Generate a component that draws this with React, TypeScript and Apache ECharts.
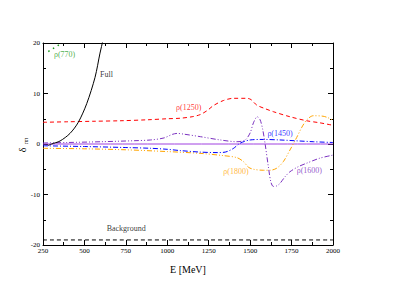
import React, { useEffect, useRef } from "react";
import * as echarts from "echarts";

const xTicks = [250, 500, 750, 1000, 1250, 1500, 1750, 2000];
const yTicks = [-20, -10, 0, 10, 20];

const rho770: number[][] = [[282, 18.3], [300, 18.7], [320, 19.1], [340, 19.5], [358, 19.9]];
const full: number[][] = [[280, -0.3], [302, 0], [353, 0.6], [413, 2.1], [463, 4.3], [514, 8.0], [564, 13.2], [594, 18.0], [612, 20.6], [625, 23]];
const rho1250: number[][] = [[250, 4.3], [400, 4.4], [550, 4.5], [715, 4.6], [884, 4.8], [1000, 5.0], [1077, 5.1], [1150, 5.4], [1197, 5.8], [1240, 6.6], [1278, 7.6], [1338, 8.6], [1398, 9.05], [1479, 9.05], [1505, 8.8], [1540, 7.7], [1590, 7.0], [1640, 6.4], [1740, 5.4], [1841, 4.6], [1920, 4.2], [2000, 3.7]];
const rho1450: number[][] = [[250, -0.35], [500, -0.5], [750, -0.7], [900, -0.85], [1000, -1.05], [1077, -1.3], [1197, -1.6], [1300, -1.7], [1350, -1.6], [1398, -0.9], [1439, 0.15], [1500, 0.8], [1580, 0.9], [1680, 0.8], [1881, 0.45], [2000, 0.3]];
const rho1600: number[][] = [[250, 0.2], [400, 0.3], [600, 0.45], [800, 0.65], [900, 0.8], [980, 1.2], [1030, 1.9], [1060, 2.1], [1100, 1.95], [1200, 1.45], [1320, 0.8], [1420, 0.45], [1470, 0.8], [1500, 2.2], [1520, 4.2], [1543, 5.4], [1560, 4.8], [1575, 3.0], [1590, 0.1], [1610, -4.5], [1625, -7.5], [1640, -8.4], [1660, -8.3], [1680, -7.8], [1710, -6.5], [1740, -5.5], [1790, -4.5], [1841, -3.8], [1921, -2.8], [2000, -2.2]];
const rho1800: number[][] = [[250, -0.85], [500, -0.95], [750, -1.15], [1000, -1.5], [1197, -1.85], [1338, -2.3], [1420, -2.7], [1460, -3.5], [1490, -4.6], [1520, -5.0], [1580, -5.2], [1620, -5.2], [1660, -4.8], [1700, -3.5], [1740, -1.2], [1781, 1.3], [1810, 3.2], [1841, 4.75], [1881, 5.6], [1940, 5.5], [1970, 5.2], [2000, 4.7]];
const zeroLine: number[][] = [[250, 0], [2000, 0]];
const background: number[][] = [[250, -19], [2000, -19]];

const labelNames = ["ρ(770)", "Full", "ρ(1250)", "ρ(1450)", "ρ(1800)", "ρ(1600)", "Background"];
const labelE = [316, 594, 1053, 1604, 1338, 1781, 634];
const labelD = [17.8, 13.7, 7.3, 2.0, -5.35, -5.15, -16.8];
const labelColors = ["#1a9a1a", "#000000", "#ff0000", "#0000ff", "#ffa500", "#7a30c0", "#000000"];

const FONT = "Liberation Serif";

export default function App() {
  const ref = useRef<HTMLDivElement>(null);
  useEffect(() => {
    if (!ref.current) return;
    const chart = echarts.init(ref.current, undefined, { renderer: "svg" });
    const axisCommon = {
      type: "value" as const,
      axisLine: { show: true, onZero: false, lineStyle: { color: "#000", width: 1 } },
      axisTick: { show: true, inside: true, length: 5, lineStyle: { color: "#000" } },
      minorTick: { show: true, splitNumber: 2, length: 3, lineStyle: { color: "#000" } },
      splitLine: { show: false },
      minorSplitLine: { show: false },
    };
    const xCommon = { ...axisCommon, min: xTicks[0], max: xTicks[xTicks.length - 1], interval: 250 };
    const yCommon = { ...axisCommon, min: yTicks[0], max: yTicks[yTicks.length - 1], interval: 10 };
    const line = (data: number[][], color: string, type: any, width = 1) => ({
      type: "line",
      data,
      showSymbol: false,
      symbol: "none",
      smooth: 0.3,
      clip: true,
      lineStyle: { color, type, width },
      silent: true,
    });
    chart.setOption({
      animation: false,
      backgroundColor: "#fff",
      grid: { left: 43, right: 65, top: 43, bottom: 36, containLabel: false },
      xAxis: [
        {
          ...xCommon,
          position: "bottom",
          axisLabel: { fontFamily: FONT, fontSize: 7, color: "#000", margin: 2, formatter: (v: number) => String(v) },
          name: "E [MeV]",
          nameLocation: "middle",
          nameGap: 19,
          nameTextStyle: { fontFamily: FONT, fontSize: 10, color: "#000" },
        },
        { ...xCommon, position: "top", axisLabel: { show: false } },
      ],
      yAxis: [
        { ...yCommon, position: "left", axisLabel: { fontFamily: FONT, fontSize: 7, color: "#000", margin: 3, formatter: (v: number) => String(v) } },
        { ...yCommon, position: "right", axisLabel: { show: false } },
      ],
      graphic: [
        { type: "text", x: 22, y: 150, rotation: Math.PI / 2, style: { text: "δ", font: `10px ${FONT}`, fill: "#000", align: "center", verticalAlign: "middle" } },
        { type: "text", x: 26, y: 141, rotation: Math.PI / 2, style: { text: "ππ", font: `6px ${FONT}`, fill: "#000", align: "center", verticalAlign: "middle" } },
      ],
      series: [
        line(background, "#000", [4, 3]),
        line(zeroLine, "#a040e0", "solid"),
        line(rho1800, "#ffa500", [5, 2, 1, 2, 1, 2]),
        line(rho1450, "#0000ff", [5, 2, 1, 2]),
        line(rho1600, "#7a30c0", [5, 2, 1, 2, 1, 2]),
        line(rho1250, "#ff0000", [4, 3]),
        line(full, "#000", "solid"),
        { ...line(rho770, "#1a9a1a", [1.5, 4], 1.5), smooth: false },
        {
          type: "scatter",
          symbolSize: 0,
          silent: true,
          data: labelNames.map((n, i) => ({
            name: n,
            value: [labelE[i], labelD[i]],
            itemStyle: { color: labelColors[i] },
            label: { color: labelColors[i] },
          })),
          label: {
            show: true,
            position: "right",
            distance: 0,
            formatter: (p: any) => p.name,
            fontFamily: FONT,
            fontSize: 8,
          },
        },
      ],
    });
    return () => chart.dispose();
  }, []);
  return <div ref={ref} style={{ position: "absolute", left: 0, top: 0, width: 398, height: 281 }} />;
}
